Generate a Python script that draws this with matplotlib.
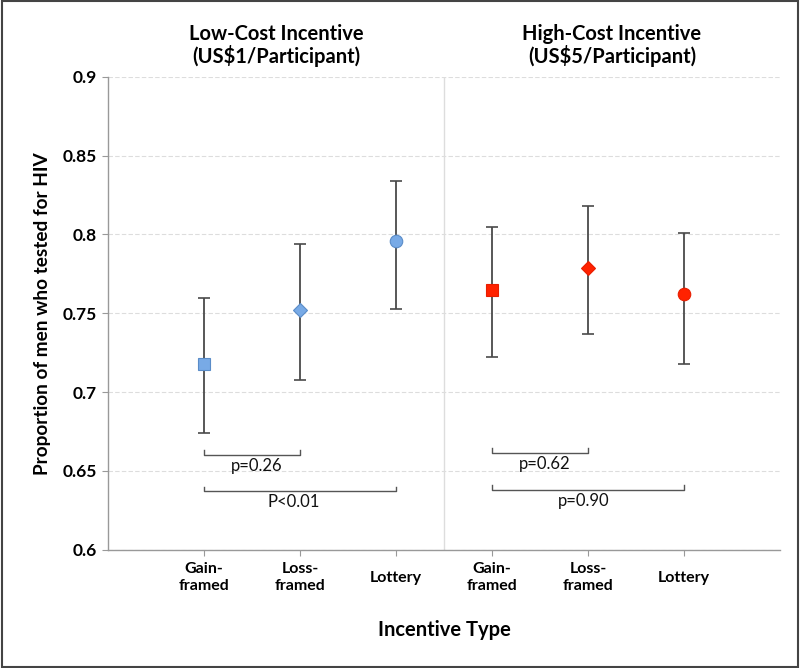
import matplotlib.pyplot as plt
from matplotlib.patches import Rectangle

plt.rcParams['font.family'] = ['Lato', 'DejaVu Sans']

# ── Data ────────────────────────────────────────────────────────────────────
tick_labels = ["Gain-\nframed", "Loss-\nframed", "Lottery",
               "Gain-\nframed", "Loss-\nframed", "Lottery"]
positions = [1, 2, 3, 4, 5, 6]
markers = ["s", "D", "o", "s", "D", "o"]

low_means = [0.718, 0.752, 0.796]
low_lower = [0.674, 0.708, 0.753]
low_upper = [0.760, 0.794, 0.834]

high_means = [0.765, 0.779, 0.762]
high_lower = [0.722, 0.737, 0.718]
high_upper = [0.805, 0.818, 0.801]

# comparisons: (x from, x to, bracket y, label, label x, label y)
brackets = [
    (1, 2, 0.660, "p=0.26", 1.55, 0.6533),
    (1, 3, 0.637, "P<0.01", 1.93, 0.6303),
    (4, 5, 0.6615, "p=0.62", 4.55, 0.6545),
    (4, 6, 0.638, "p=0.90", 4.95, 0.6310),
]

# ── Plot ────────────────────────────────────────────────────────────────────
fig = plt.figure(figsize=(8, 6.68), dpi=100)
ax = fig.add_axes([0.135, 0.177, 0.84, 0.708])

groups = [
    (positions[:3], low_means, low_lower, low_upper, "#78AAE6", "#5A8CC8", markers[:3]),
    (positions[3:], high_means, high_lower, high_upper, "#FF2200", "#E81E00", markers[3:]),
]
sizes = {"s": 9, "D": 7, "o": 9}
for xs, means, lo, hi, col, edge, mks in groups:
    for x, m, l, h, mk in zip(xs, means, lo, hi, mks):
        ax.errorbar(x, m, yerr=[[m - l], [h - m]], fmt="none",
                    ecolor="#4a4a4a", elinewidth=1.3, capsize=4, capthick=1.2, zorder=2)
        ax.plot(x, m, marker=mk, color=col, markeredgecolor=edge,
                markeredgewidth=0.8, markersize=sizes[mk], zorder=3)

for x0, x1, y, label, tx, ty in brackets:
    ax.plot([x0, x0, x1, x1], [y + 0.003, y, y, y + 0.003],
            color="#555555", lw=1.0, zorder=2)
    ax.text(tx, ty, label, ha="center", va="center", fontsize=12, color="#111111")

ax.set_xlim(0, 7)
ax.set_ylim(0.6, 0.9)
ax.set_yticks([0.6, 0.65, 0.7, 0.75, 0.8, 0.85, 0.9])
ax.set_yticklabels(["0.6", "0.65", "0.7", "0.75", "0.8", "0.85", "0.9"],
                   fontsize=12.5, fontweight="bold")
ax.set_xticks(positions)
ax.set_xticklabels(tick_labels, fontsize=11.5, fontweight="bold")
for lbl in ax.get_xticklabels():
    lbl.set_verticalalignment("center")
ax.tick_params(axis="x", length=4, color="#999999", pad=16)
ax.tick_params(axis="y", length=4, color="#999999", pad=4)

ax.grid(axis="y", color="#dddddd", linestyle=(0, (4, 2)), lw=0.8)
ax.set_axisbelow(True)
ax.axvline(3.5, color="#dddddd", lw=1.0, zorder=0)
for s in ["top", "right"]:
    ax.spines[s].set_visible(False)
for s in ["left", "bottom"]:
    ax.spines[s].set_color("#999999")
    ax.spines[s].set_linewidth(1.0)

ax.set_ylabel("Proportion of men who tested for HIV", fontsize=13.7,
              fontweight="bold", labelpad=8)
ax.set_xlabel("Incentive Type", fontsize=14.5, fontweight="bold", labelpad=20)

ax.text(0.25, 1.02, "Low-Cost Incentive\n(US$1/Participant)", transform=ax.transAxes,
        ha="center", va="bottom", fontsize=14.5, fontweight="bold", linespacing=1.05)
ax.text(0.75, 1.02, "High-Cost Incentive\n(US$5/Participant)", transform=ax.transAxes,
        ha="center", va="bottom", fontsize=14.5, fontweight="bold", linespacing=1.05)

fig.patches.append(Rectangle((0.002, 0.002), 0.996, 0.996, transform=fig.transFigure,
                             fill=False, edgecolor="#444444", lw=1.5))

fig.savefig("out.png", dpi=100)
